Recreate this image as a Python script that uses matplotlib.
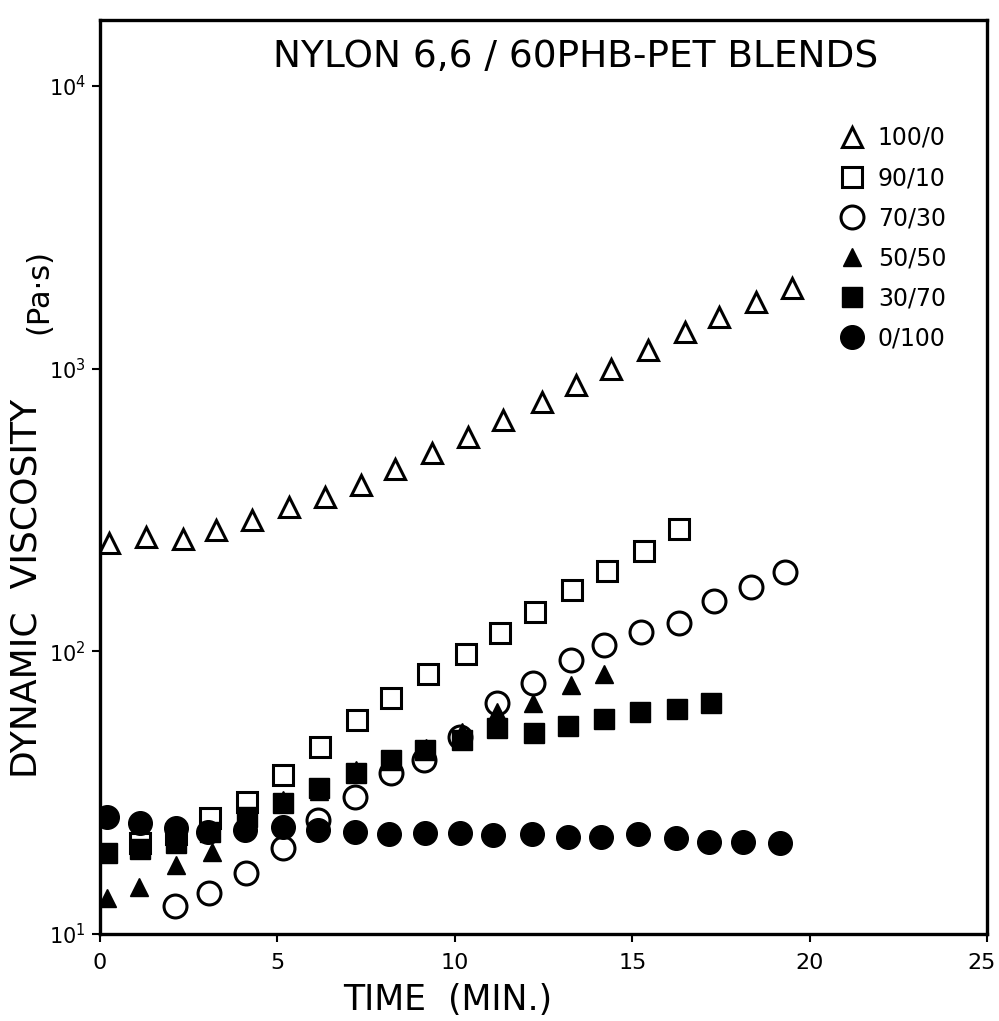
import matplotlib
matplotlib.use("Agg")
import matplotlib.pyplot as plt
from matplotlib.transforms import ScaledTranslation
from matplotlib.ticker import NullLocator, FixedLocator

# blend ratio (nylon 6,6 / 60PHB-PET) -> time (min) and dynamic viscosity (Pa.s)
t_100_0 = [0.25, 1.29, 2.33, 3.27, 4.28, 5.33, 6.34, 7.35, 8.32, 9.35, 10.36, 11.35,
           12.45, 13.42, 14.40, 15.45, 16.49, 17.45, 18.48, 19.50]
v_100_0 = [242, 254, 250, 268, 291, 324, 351, 388, 442, 503, 573, 658,
           762, 876, 999, 1164, 1349, 1524, 1722, 1929]

t_90_10 = [1.13, 2.14, 3.10, 4.13, 5.17, 6.20, 7.24, 8.19, 9.25, 10.31, 11.27, 12.26,
           13.29, 14.28, 15.34, 16.33]
v_90_10 = [21.0, 22.5, 25.7, 29.4, 36.5, 45.8, 57.1, 68.2, 83.0, 97.6, 116.4, 138.1,
           164.8, 192.8, 226.3, 270.2]

t_70_30 = [2.11, 3.08, 4.11, 5.15, 6.14, 7.19, 8.19, 9.13, 10.15, 11.20, 12.20, 13.28,
           14.20, 15.24, 16.32, 17.31, 18.34, 19.31]
v_70_30 = [12.6, 14.0, 16.4, 20.1, 25.3, 30.6, 37.0, 41.3, 49.9, 65.9, 77.3, 93.1,
           104.9, 116.9, 126.2, 150.7, 169.3, 190.4]

t_50_50 = [0.19, 1.11, 2.14, 3.15, 4.12, 5.16, 6.18, 7.21, 8.19, 9.18, 10.21, 11.20,
           12.21, 13.27, 14.20]
v_50_50 = [13.4, 14.7, 17.5, 19.5, 25.3, 29.8, 32.0, 38.0, 41.3, 45.5, 51.8, 61.2,
           65.5, 76.0, 83.2]

t_30_70 = [0.19, 1.13, 2.14, 3.10, 4.13, 5.17, 6.18, 7.21, 8.19, 9.16, 10.21, 11.20,
           12.23, 13.20, 14.21, 15.22, 16.25, 17.21]
v_30_70 = [19.3, 20.0, 21.0, 23.0, 26.0, 29.1, 32.8, 37.0, 41.3, 44.8, 48.5, 53.4,
           51.3, 54.4, 57.5, 61.2, 62.3, 65.8]

t_0_100 = [0.19, 1.13, 2.14, 3.04, 4.09, 5.16, 6.14, 7.19, 8.14, 9.16, 10.15, 11.08,
           12.17, 13.19, 14.12, 15.16, 16.23, 17.16, 18.12, 19.16]
v_0_100 = [25.9, 24.7, 23.7, 23.0, 23.3, 24.0, 23.3, 23.0, 22.6, 22.8, 22.8, 22.4,
           22.6, 22.1, 22.0, 22.6, 21.9, 21.2, 21.2, 21.0]

labels = ['100/0', '90/10', '70/30', '50/50', '30/70', '0/100']
x_ticks = [0, 5, 10, 15, 20, 25]
y_ticks = [10, 100, 1000, 10000]
y_tick_labels = ['$10^{1}$', '$10^{2}$', '$10^{3}$', '$10^{4}$']

series = [
    (t_100_0, v_100_0, dict(marker='^', ms=14, mfc='none', mew=2.2)),
    (t_90_10, v_90_10, dict(marker='s', ms=14, mfc='none', mew=2.2)),
    (t_70_30, v_70_30, dict(marker='o', ms=16.5, mfc='none', mew=2.2)),
    (t_50_50, v_50_50, dict(marker='^', ms=13, mfc='k', mew=1.0)),
    (t_30_70, v_30_70, dict(marker='s', ms=14.5, mfc='k', mew=1.0)),
    (t_0_100, v_0_100, dict(marker='o', ms=17, mfc='k', mew=1.0)),
]

fig = plt.figure(figsize=(9.99, 10.21), dpi=100)
ax = fig.add_axes([0.1001, 0.0852, 0.888, 0.8952])

handles = []
for (t, v, style), lab in zip(series, labels):
    ln, = ax.plot(t, v, ls='none', color='k', mec='k', label=lab, **style)
    handles.append(ln)

ax.set_yscale('log')
ax.set_xlim(0, 25)
ax.set_ylim(10, 10 ** 4.2335)
ax.xaxis.set_major_locator(FixedLocator(x_ticks))
ax.yaxis.set_major_locator(FixedLocator(y_ticks))
ax.yaxis.set_minor_locator(NullLocator())
ax.set_yticklabels(y_tick_labels)
ax.tick_params(direction='out', length=6, width=1.5, labelsize=16, pad=8)
ax.tick_params(axis='y', labelsize=15, pad=4)
for sp in ax.spines.values():
    sp.set_linewidth(2.4)

# last x label sits on the figure edge, nudge it in a bit
last = ax.get_xticklabels()[-1]
last.set_transform(last.get_transform() + ScaledTranslation(-6 / 100, 0, fig.dpi_scale_trans))

fig.text(576 / 999, 1 - 57 / 1021, 'NYLON 6,6 / 60PHB-PET BLENDS',
         ha='center', va='center', fontsize=27)
fig.text(448 / 999, 1 - 1000 / 1021, 'TIME  (MIN.)', ha='center', va='center', fontsize=25)
fig.text(27 / 999, 1 - 588 / 1021, 'DYNAMIC  VISCOSITY', rotation=90,
         ha='center', va='center', fontsize=26)
fig.text(39 / 999, 1 - 292 / 1021, '(Pa·s)', rotation=90,
         ha='center', va='center', fontsize=22)

ax.legend(handles=handles, loc='upper left', bbox_to_anchor=(840 / 999, 1 - 126 / 1021),
          bbox_transform=fig.transFigure, frameon=False, fontsize=17,
          handlelength=1.0, handletextpad=0.6, labelspacing=0.68, borderpad=0,
          borderaxespad=0)

fig.savefig('out.png', dpi=100)
